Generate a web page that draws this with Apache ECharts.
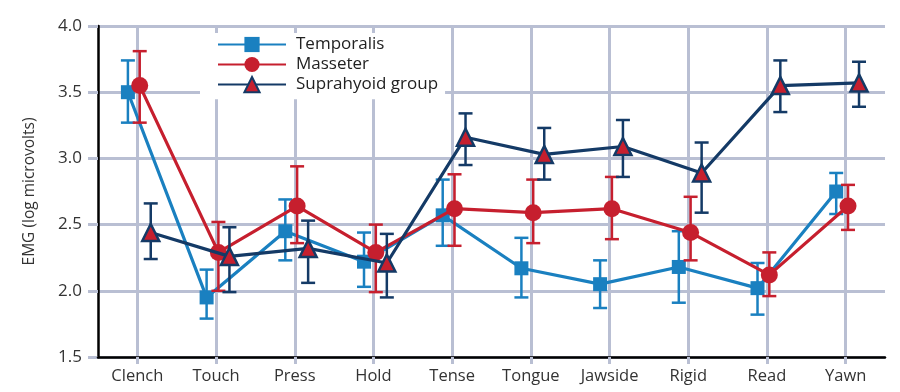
<!DOCTYPE html>
<html>
<head>
<meta charset="utf-8">
<script src="https://cdn.jsdelivr.net/npm/echarts@6/dist/echarts.min.js"></script>
<style>html,body{margin:0;padding:0;background:#fff}#c{width:900px;height:392px}</style>
</head>
<body>
<div id="c"></div>
<script>
const categories = ['Clench','Touch','Press','Hold','Tense','Tongue','Jawside','Rigid','Read','Yawn'];
const yTicks = [1.5, 2.0, 2.5, 3.0, 3.5, 4.0];
const seriesNames = ['Temporalis', 'Masseter', 'Suprahyoid group'];

const temporalis     = [3.50, 1.95, 2.45, 2.22, 2.57, 2.17, 2.05, 2.18, 2.02, 2.75];
const temporalisHigh = [3.74, 2.16, 2.69, 2.44, 2.84, 2.40, 2.23, 2.45, 2.21, 2.89];
const temporalisLow  = [3.27, 1.79, 2.23, 2.03, 2.34, 1.95, 1.87, 1.91, 1.82, 2.58];

const masseter     = [3.55, 2.29, 2.64, 2.29, 2.62, 2.59, 2.62, 2.44, 2.12, 2.64];
const masseterHigh = [3.81, 2.52, 2.94, 2.50, 2.88, 2.84, 2.86, 2.71, 2.29, 2.80];
const masseterLow  = [3.27, 2.00, 2.36, 1.99, 2.34, 2.36, 2.39, 2.23, 1.96, 2.46];

const suprahyoid     = [2.44, 2.26, 2.32, 2.21, 3.16, 3.03, 3.09, 2.89, 3.55, 3.57];
const suprahyoidHigh = [2.66, 2.48, 2.53, 2.43, 3.34, 3.23, 3.29, 3.12, 3.74, 3.73];
const suprahyoidLow  = [2.24, 1.99, 2.06, 1.95, 2.95, 2.84, 2.86, 2.59, 3.35, 3.39];

// styling
const FONT = 'Open Sans';
const GRID_COLOR = '#b9bfd3';
const styles = [
  { color: '#1a80c0', symbol: 'rect', size: 14, dodge: -0.12, fill: '#1a80c0', border: '#1a80c0', bw: 0 },
  { color: '#c61f2e', symbol: 'circle', size: 17, dodge: 0.03, fill: '#c61f2e', border: '#c61f2e', bw: 0 },
  { color: '#143a66', symbol: 'triangle', size: 17, dodge: 0.17, fill: '#c61f2e', border: '#143a66', bw: 2.5 }
];
const values = [temporalis, masseter, suprahyoid];
const highs = [temporalisHigh, masseterHigh, suprahyoidHigh];
const lows = [temporalisLow, masseterLow, suprahyoidLow];

const series = [];
values.forEach((vals, s) => {
  const st = styles[s];
  series.push({
    type: 'line',
    name: seriesNames[s],
    xAxisIndex: 1,
    z: 3 + s * 2,
    data: vals.map((v, i) => [i + st.dodge, v]),
    symbol: st.symbol,
    symbolSize: st.size,
    showAllSymbol: true,
    color: st.color,
    lineStyle: { color: st.color, width: 3.2 },
    itemStyle: { color: st.fill, borderColor: st.border, borderWidth: st.bw, opacity: 1 },
    emphasis: { disabled: true },
    animation: false
  });
  series.push({
    type: 'custom',
    name: seriesNames[s] + ' error',
    xAxisIndex: 1,
    silent: true,
    z: 2 + s * 2,
    data: vals.map((v, i) => [i + st.dodge, lows[s][i], highs[s][i]]),
    renderItem: function (params, api) {
      const x = api.value(0);
      const lo = api.coord([x, api.value(1)]);
      const hi = api.coord([x, api.value(2)]);
      const cap = 7;
      const style = { stroke: st.color, lineWidth: 2.5, fill: null };
      return {
        type: 'group',
        children: [
          { type: 'line', shape: { x1: lo[0], y1: lo[1], x2: hi[0], y2: hi[1] }, style: style },
          { type: 'line', shape: { x1: hi[0] - cap, y1: hi[1], x2: hi[0] + cap, y2: hi[1] }, style: style },
          { type: 'line', shape: { x1: lo[0] - cap, y1: lo[1], x2: lo[0] + cap, y2: lo[1] }, style: style }
        ]
      };
    }
  });
});

const chart = echarts.init(document.getElementById('c'), null, { renderer: 'canvas' });
chart.setOption({
  animation: false,
  backgroundColor: '#fff',
  grid: { left: 98, right: 15, top: 26, bottom: 35, containLabel: false },
  legend: {
    data: seriesNames,
    orient: 'vertical',
    left: 200,
    top: 33,
    backgroundColor: '#fff',
    padding: [3, 7, 6, 17],
    itemWidth: 68,
    itemHeight: 19,
    itemGap: 3,
    textStyle: { fontFamily: FONT, fontSize: 17, color: '#222', padding: [0, 0, 0, 5] },
    selectedMode: false,
    z: 10
  },
  xAxis: [
    {
      type: 'category',
      data: categories,
      boundaryGap: true,
      z: 2,
      axisLine: { show: true, onZero: false, lineStyle: { color: '#000', width: 2.5 } },
      axisTick: { show: true, alignWithLabel: true, length: 7, lineStyle: { color: GRID_COLOR, width: 3 } },
      axisLabel: { fontFamily: FONT, fontSize: 16.5, color: '#333', margin: 11 },
      splitLine: { show: false }
    },
    {
      type: 'value',
      min: -0.5,
      max: categories.length - 0.5,
      z: 0,
      axisLine: { show: false },
      axisLabel: { show: false },
      axisTick: { show: false, customValues: categories.map((c, i) => i) },
      splitLine: { show: true, lineStyle: { color: GRID_COLOR, width: 3 } }
    }
  ],
  yAxis: {
    type: 'value',
    min: yTicks[0],
    max: yTicks[yTicks.length - 1],
    interval: 0.5,
    z: 1,
    name: 'EMG (log microvolts)',
    nameLocation: 'middle',
    nameGap: 60,
    nameTextStyle: { fontFamily: FONT, fontSize: 15.5, color: '#333' },
    axisLine: { show: true, onZero: false, lineStyle: { color: '#000', width: 2.5 } },
    axisTick: { show: true, length: 10, lineStyle: { color: GRID_COLOR, width: 3 } },
    axisLabel: { fontFamily: FONT, fontSize: 17, color: '#333', margin: 16, formatter: v => v.toFixed(1) },
    splitLine: { show: true, lineStyle: { color: GRID_COLOR, width: 3 } }
  },
  series: series
});
</script>
</body>
</html>
